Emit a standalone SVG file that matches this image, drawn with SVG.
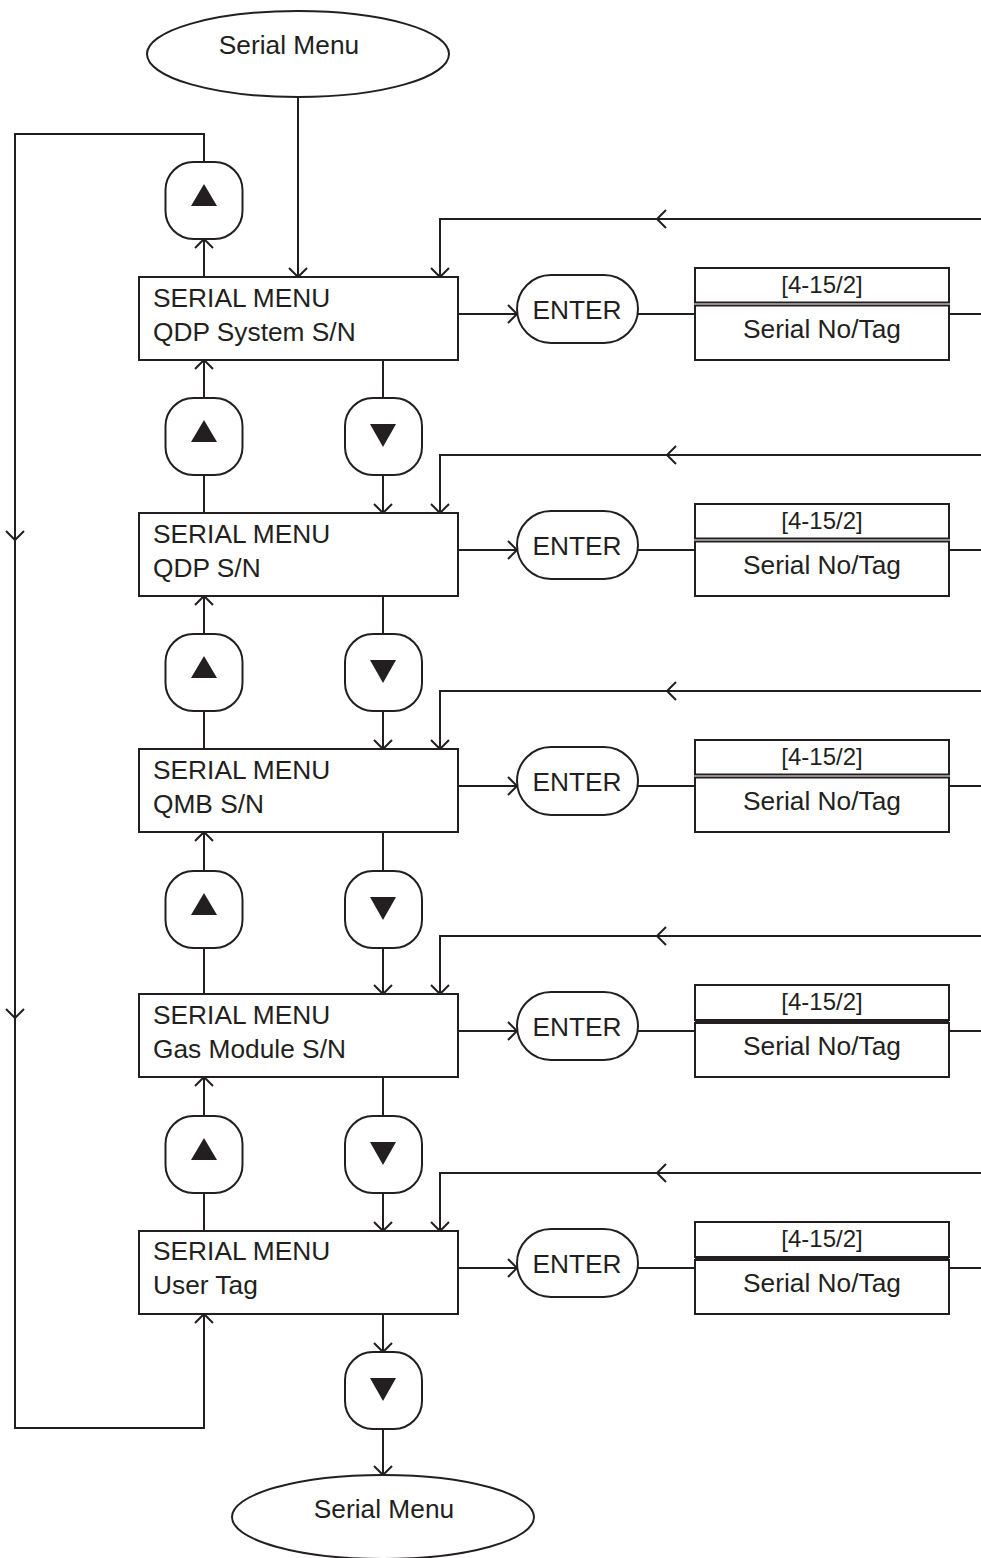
<svg xmlns="http://www.w3.org/2000/svg" width="981" height="1558" viewBox="0 0 981 1558">
<style>
.s{fill:#fff;stroke:#231f20;stroke-width:2}
.c{fill:none;stroke:#231f20;stroke-width:2}
.t{font-family:"Liberation Sans",Arial,sans-serif;font-size:26.3px;fill:#231f20}
.m{text-anchor:middle}
.h{font-size:24px}
.tri{fill:#231f20}
</style>
<defs>
<marker id="a" markerUnits="userSpaceOnUse" markerWidth="24" markerHeight="24" viewBox="-12 -12 24 24" refX="0" refY="0" orient="auto" overflow="visible">
<path d="M-9,-9 L0,0 L-9,9" fill="none" stroke="#231f20" stroke-width="2"/>
</marker>
</defs>
<rect width="981" height="1558" fill="#fff"/>

<g id="connectors" class="c">
<path d="M298,97 V277" marker-end="url(#a)"/>
<path d="M204,277 V239" marker-end="url(#a)"/>
<path d="M204,398 V360" marker-end="url(#a)"/>
<path d="M204,513 V474"/>
<path d="M204,634 V596" marker-end="url(#a)"/>
<path d="M204,749 V711"/>
<path d="M204,871 V832" marker-end="url(#a)"/>
<path d="M204,994 V948"/>
<path d="M204,1116 V1077" marker-end="url(#a)"/>
<path d="M204,1231 V1193"/>
<path d="M204,162 V134 H15 V540" marker-end="url(#a)"/>
<path d="M15,540 V1018" marker-end="url(#a)"/>
<path d="M15,1018 V1428 H204 V1314" marker-end="url(#a)"/>
<path d="M383,360 V398"/>
<path d="M383,474 V513" marker-end="url(#a)"/>
<path d="M383,596 V634"/>
<path d="M383,711 V749" marker-end="url(#a)"/>
<path d="M383,832 V871"/>
<path d="M383,948 V994" marker-end="url(#a)"/>
<path d="M383,1077 V1116"/>
<path d="M383,1193 V1231" marker-end="url(#a)"/>
<path d="M383,1314 V1352" marker-end="url(#a)"/>
<path d="M383,1429 V1475" marker-end="url(#a)"/>
<path d="M981,219 H657" marker-end="url(#a)"/>
<path d="M657,219 H440 V277" marker-end="url(#a)"/>
<path d="M981,455 H667" marker-end="url(#a)"/>
<path d="M667,455 H440 V513" marker-end="url(#a)"/>
<path d="M981,691 H667" marker-end="url(#a)"/>
<path d="M667,691 H440 V749" marker-end="url(#a)"/>
<path d="M981,936 H657" marker-end="url(#a)"/>
<path d="M657,936 H440 V994" marker-end="url(#a)"/>
<path d="M981,1173 H657" marker-end="url(#a)"/>
<path d="M657,1173 H440 V1231" marker-end="url(#a)"/>
<path d="M458,314 H517" marker-end="url(#a)"/>
<path d="M638,314 H695"/>
<path d="M949,314 H981"/>
<path d="M458,550 H517" marker-end="url(#a)"/>
<path d="M638,550 H695"/>
<path d="M949,550 H981"/>
<path d="M458,786 H517" marker-end="url(#a)"/>
<path d="M638,786 H695"/>
<path d="M949,786 H981"/>
<path d="M458,1031 H517" marker-end="url(#a)"/>
<path d="M638,1031 H695"/>
<path d="M949,1031 H981"/>
<path d="M458,1268 H517" marker-end="url(#a)"/>
<path d="M638,1268 H695"/>
<path d="M949,1268 H981"/>
</g>

<g id="start">
<ellipse class="s" cx="298" cy="54" rx="151" ry="43"/>
<text class="t m" x="289" y="54">Serial Menu</text>
</g>
<g id="end">
<ellipse class="s" cx="383" cy="1517" rx="151" ry="42"/>
<text class="t m" x="384" y="1518">Serial Menu</text>
</g>

<g id="up0"><rect class="s" x="165.5" y="162" width="77" height="77" rx="28"/><path class="tri" d="M204,184 L217,206 L191,206 Z"/></g>

<g id="row1">
<rect class="s" x="139" y="277" width="319" height="83"/>
<text class="t" x="153" y="307">SERIAL MENU</text>
<text class="t" x="153" y="341">QDP System S/N</text>
</g>
<g id="enter1"><rect class="s" x="517" y="275" width="121" height="68" rx="34"/><text class="t m" x="577" y="319">ENTER</text></g>
<g id="tag1">
<rect class="s" x="695" y="268" width="254" height="34.5"/>
<rect class="s" x="695" y="305.5" width="254" height="54.5"/>
<text class="t m h" x="822" y="293">[4-15/2]</text>
<text class="t m" x="822" y="338">Serial No/Tag</text>
</g>

<g id="up1"><rect class="s" x="165.5" y="398" width="77" height="77" rx="28"/><path class="tri" d="M204,420 L217,442 L191,442 Z"/></g>
<g id="down1"><rect class="s" x="345" y="398" width="77" height="77" rx="28"/><path class="tri" d="M370,424 L396,424 L383,447 Z"/></g>

<g id="row2">
<rect class="s" x="139" y="513" width="319" height="83"/>
<text class="t" x="153" y="543">SERIAL MENU</text>
<text class="t" x="153" y="577">QDP S/N</text>
</g>
<g id="enter2"><rect class="s" x="517" y="511" width="121" height="68" rx="34"/><text class="t m" x="577" y="555">ENTER</text></g>
<g id="tag2">
<rect class="s" x="695" y="504" width="254" height="34.5"/>
<rect class="s" x="695" y="541.5" width="254" height="54.5"/>
<text class="t m h" x="822" y="529">[4-15/2]</text>
<text class="t m" x="822" y="574">Serial No/Tag</text>
</g>

<g id="up2"><rect class="s" x="165.5" y="634" width="77" height="77" rx="28"/><path class="tri" d="M204,656 L217,678 L191,678 Z"/></g>
<g id="down2"><rect class="s" x="345" y="634" width="77" height="77" rx="28"/><path class="tri" d="M370,660 L396,660 L383,683 Z"/></g>

<g id="row3">
<rect class="s" x="139" y="749" width="319" height="83"/>
<text class="t" x="153" y="779">SERIAL MENU</text>
<text class="t" x="153" y="813">QMB S/N</text>
</g>
<g id="enter3"><rect class="s" x="517" y="747" width="121" height="68" rx="34"/><text class="t m" x="577" y="791">ENTER</text></g>
<g id="tag3">
<rect class="s" x="695" y="740" width="254" height="34.5"/>
<rect class="s" x="695" y="777.5" width="254" height="54.5"/>
<text class="t m h" x="822" y="765">[4-15/2]</text>
<text class="t m" x="822" y="810">Serial No/Tag</text>
</g>

<g id="up3"><rect class="s" x="165.5" y="871" width="77" height="77" rx="28"/><path class="tri" d="M204,893 L217,915 L191,915 Z"/></g>
<g id="down3"><rect class="s" x="345" y="871" width="77" height="77" rx="28"/><path class="tri" d="M370,897 L396,897 L383,920 Z"/></g>

<g id="row4">
<rect class="s" x="139" y="994" width="319" height="83"/>
<text class="t" x="153" y="1024">SERIAL MENU</text>
<text class="t" x="153" y="1058">Gas Module S/N</text>
</g>
<g id="enter4"><rect class="s" x="517" y="992" width="121" height="68" rx="34"/><text class="t m" x="577" y="1036">ENTER</text></g>
<g id="tag4">
<rect class="s" x="695" y="985" width="254" height="35"/>
<rect class="s" x="695" y="1023" width="254" height="54"/>
<rect class="tri" x="695" y="1020" width="254" height="3"/>
<text class="t m h" x="822" y="1010">[4-15/2]</text>
<text class="t m" x="822" y="1055">Serial No/Tag</text>
</g>

<g id="up4"><rect class="s" x="165.5" y="1116" width="77" height="77" rx="28"/><path class="tri" d="M204,1138 L217,1160 L191,1160 Z"/></g>
<g id="down4"><rect class="s" x="345" y="1116" width="77" height="77" rx="28"/><path class="tri" d="M370,1142 L396,1142 L383,1165 Z"/></g>

<g id="row5">
<rect class="s" x="139" y="1231" width="319" height="83"/>
<text class="t" x="153" y="1260">SERIAL MENU</text>
<text class="t" x="153" y="1294">User Tag</text>
</g>
<g id="enter5"><rect class="s" x="517" y="1229" width="121" height="68" rx="34"/><text class="t m" x="577" y="1273">ENTER</text></g>
<g id="tag5">
<rect class="s" x="695" y="1222" width="254" height="35"/>
<rect class="s" x="695" y="1260" width="254" height="54"/>
<rect class="tri" x="695" y="1257" width="254" height="3"/>
<text class="t m h" x="822" y="1247">[4-15/2]</text>
<text class="t m" x="822" y="1292">Serial No/Tag</text>
</g>

<g id="down5"><rect class="s" x="345" y="1352" width="77" height="77" rx="28"/><path class="tri" d="M370,1378 L396,1378 L383,1401 Z"/></g>
</svg>
